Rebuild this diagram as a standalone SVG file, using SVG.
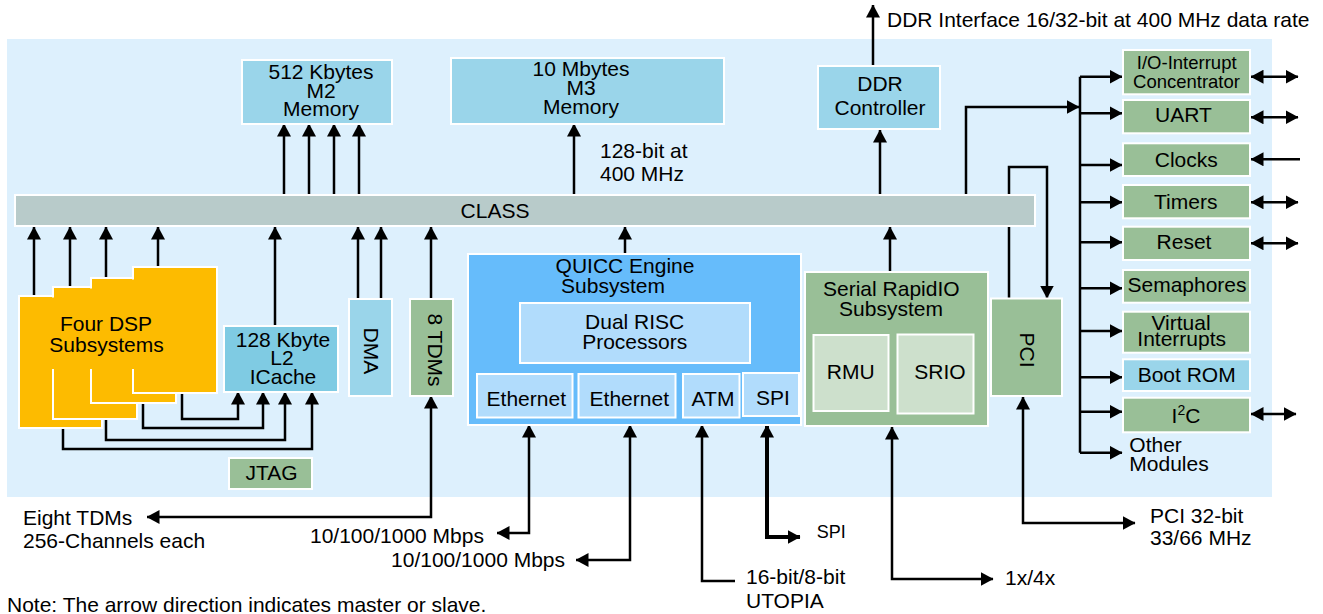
<svg xmlns="http://www.w3.org/2000/svg" width="1323" height="614" viewBox="0 0 1323 614">
<style>
text{font-family:"Liberation Sans",Arial,Helvetica,sans-serif;font-size:21px;fill:#000}
.c{text-anchor:middle}
.box{stroke:#fff;stroke-width:2}
.bl{fill:#9ad5ea}
.gr{fill:#99bf97}
.lg{fill:#cde0cc}
.qb{fill:#b1dcfc}
.or{fill:#fdbb00}
.ln{fill:none;stroke:#000;stroke-width:2.5}
.ae{marker-end:url(#ah)}
.ab{marker-start:url(#ah);marker-end:url(#ah)}
</style>
<defs>
<marker id="ah" viewBox="0 0 13 14" refX="12.5" refY="7" markerWidth="13" markerHeight="14" markerUnits="userSpaceOnUse" orient="auto-start-reverse"><path d="M0,0 L13,7 L0,14 z" fill="#000"/></marker>
<clipPath id="dspclip"><rect x="0" y="0" width="300" height="369"/></clipPath>
</defs>
<rect id="panel" x="7" y="39" width="1265" height="458" fill="#ddf0fd"/>

<g id="connectors">
<path class="ln ae" d="M34,296 V227"/>
<path class="ln ae" d="M70,287 V227"/>
<path class="ln ae" d="M106,278 V227"/>
<path class="ln ae" d="M158,267 V227"/>
<path class="ln ae" d="M275,326 V227"/>
<path class="ln ae" d="M358,299 V227"/>
<path class="ln ae" d="M381,299 V227"/>
<path class="ln ae" d="M431,299 V227"/>
<path class="ln ae" d="M625,254 V227"/>
<path class="ln ae" d="M890,272 V227"/>
<path class="ln ae" d="M284,195 V124"/>
<path class="ln ae" d="M309,195 V124"/>
<path class="ln ae" d="M334,195 V124"/>
<path class="ln ae" d="M359,195 V124"/>
<path class="ln ae" d="M574,195 V124"/>
<path class="ln ae" d="M880,195 V130"/>
<path class="ln ae" d="M873,66 V5"/>
<path class="ln ae" d="M966,195 V107 H1079"/>
<path class="ln ae" d="M1009,298 V167 H1047 V298"/>
<path class="ln" d="M1080,76.7 V452.7"/>
<path class="ln ae" d="M1080,76.7 H1122"/>
<path class="ln ae" d="M1080,113.3 H1122"/>
<path class="ln ae" d="M1080,165 H1122"/>
<path class="ln ae" d="M1080,202.3 H1122"/>
<path class="ln ae" d="M1080,242.3 H1122"/>
<path class="ln ae" d="M1080,288.3 H1122"/>
<path class="ln ae" d="M1080,331 H1122"/>
<path class="ln ae" d="M1080,377.3 H1122"/>
<path class="ln ae" d="M1080,411.7 H1122"/>
<path class="ln ae" d="M1080,452.7 H1122"/>
<path class="ln ab" d="M1251,76.7 H1298"/>
<path class="ln ab" d="M1251,117.3 H1298"/>
<path class="ln ae" d="M1300,159.3 H1251"/>
<path class="ln ab" d="M1251,202.3 H1298"/>
<path class="ln ab" d="M1251,243.3 H1298"/>
<path class="ln ab" d="M1251,414 H1296"/>
<path class="ln ae" d="M182,393 V419 H238 V392"/>
<path class="ln ae" d="M143,403 V428 H263 V392"/>
<path class="ln ae" d="M106,419 V440 H285 V392"/>
<path class="ln ae" d="M63,428 V449 H312 V392"/>
<path class="ln ab" d="M147,517 H431 V396"/>
<path class="ln ab" d="M497,533 H529 V425"/>
<path class="ln ab" d="M576,560 H630 V425"/>
<path class="ln ae" d="M735,581 H702 V425"/>
<path class="ln ab" d="M800,537 H767 V425" style="stroke-width:4"/>
<path class="ln ab" d="M993,579 H892 V427"/>
<path class="ln ab" d="M1135,523 H1023 V397"/>
</g>

<g id="class-bus"><rect class="box" x="15" y="195" width="1020" height="31" fill="#b8cbca"/><text class="c" x="495" y="218">CLASS</text></g>

<g id="m2"><rect class="box bl" x="242" y="60" width="150" height="64"/><text class="c" x="321" y="79">512 Kbytes</text><text class="c" x="321" y="97.5">M2</text><text class="c" x="321" y="116">Memory</text></g>
<g id="m3"><rect class="box bl" x="451" y="58" width="273" height="66"/><text class="c" x="581" y="76">10 Mbytes</text><text class="c" x="581" y="95">M3</text><text class="c" x="581" y="114">Memory</text></g>
<text x="600" y="158">128-bit at</text><text x="600" y="180.5">400 MHz</text>
<g id="ddr"><rect class="box bl" x="818" y="66" width="122" height="63"/><text class="c" x="880" y="90.5">DDR</text><text class="c" x="880" y="115">Controller</text></g>
<text x="887" y="26.7">DDR Interface 16/32-bit at 400 MHz data rate</text>

<g id="dsp">
<rect class="box or" x="19" y="296" width="83" height="132"/>
<rect class="box or" x="53" y="287" width="84" height="132"/>
<rect class="box or" x="91" y="278" width="85" height="125"/>
<rect class="box or" x="133" y="267" width="84" height="126"/>
<g clip-path="url(#dspclip)">
<rect class="or" x="20.5" y="297.5" width="80" height="129"/>
<rect class="or" x="54.5" y="288.5" width="81" height="129"/>
<rect class="or" x="92.5" y="279.5" width="82" height="122"/>
<rect class="or" x="134.5" y="268.5" width="81" height="123"/>
</g>
<text class="c" x="106" y="330.7">Four DSP</text><text class="c" x="106.5" y="351.7">Subsystems</text>
</g>
<g id="icache"><rect class="box" x="224" y="326" width="114" height="66" fill="#7fcbe3"/><text class="c" x="283" y="346.7">128 Kbyte</text><text class="c" x="282" y="365">L2</text><text class="c" x="283" y="384">ICache</text></g>
<g id="jtag"><rect class="box gr" x="229" y="458" width="83" height="31"/><text class="c" x="271.5" y="480">JTAG</text></g>
<g id="dma"><rect class="box bl" x="349" y="299" width="43" height="97"/><text class="c" transform="translate(371,350.8) rotate(90)" dy="0.35em">DMA</text></g>
<g id="tdms"><rect class="box gr" x="410" y="299" width="43" height="97"/><text class="c" transform="translate(435.5,350) rotate(90)" dy="0.35em">8 TDMs</text></g>

<g id="quicc">
<rect class="box" x="468" y="254" width="333" height="171" fill="#66bcfb"/>
<text class="c" x="625" y="273.3">QUICC Engine</text><text class="c" x="613" y="293.3">Subsystem</text>
<rect class="box qb" x="520" y="303" width="230" height="60"/>
<text class="c" x="634.7" y="329.3">Dual RISC</text><text class="c" x="634.7" y="349.3">Processors</text>
<rect class="box qb" x="477" y="374" width="95.5" height="43.5"/><text class="c" x="526.3" y="405.7">Ethernet</text>
<rect class="box qb" x="578.5" y="374" width="97" height="43.5"/><text class="c" x="629.3" y="405.7">Ethernet</text>
<rect class="box qb" x="683" y="374" width="56.5" height="43.5"/><text class="c" x="713" y="405.7">ATM</text>
<rect class="box qb" x="743" y="373" width="56" height="43"/><text class="c" x="773" y="405">SPI</text>
</g>

<g id="srio">
<rect class="box gr" x="805" y="272" width="183" height="154"/>
<text class="c" x="891.3" y="295.7">Serial RapidIO</text><text class="c" x="891" y="315.7">Subsystem</text>
<rect class="box lg" x="813.5" y="335" width="75" height="76"/><text class="c" x="850.7" y="379.3">RMU</text>
<rect class="box lg" x="897.5" y="334.5" width="76" height="79"/><text class="c" x="940" y="379.3">SRIO</text>
</g>
<g id="pci"><rect class="box gr" x="991" y="298.5" width="71" height="97.5"/><text class="c" transform="translate(1027.5,350) rotate(90)" dy="0.35em">PCI</text></g>

<g id="io-int"><rect class="box gr" x="1123" y="50" width="127" height="44.3"/><text class="c" x="1186.7" y="69.3" style="font-size:18.5px">I/O-Interrupt</text><text class="c" x="1186.5" y="88.3" style="font-size:18.5px">Concentrator</text></g>
<g id="uart"><rect class="box gr" x="1123" y="100" width="127" height="33.3"/><text class="c" x="1183.5" y="121.7">UART</text></g>
<g id="clocks"><rect class="box gr" x="1123" y="143.3" width="127" height="32.7"/><text class="c" x="1186.3" y="166.7">Clocks</text></g>
<g id="timers"><rect class="box gr" x="1123" y="185" width="127" height="33.3"/><text class="c" x="1185.7" y="209.3">Timers</text></g>
<g id="reset"><rect class="box gr" x="1123" y="226.7" width="127" height="33.3"/><text class="c" x="1184" y="249.3">Reset</text></g>
<g id="semaphores"><rect class="box gr" x="1123" y="270" width="127" height="32.7"/><text class="c" x="1187" y="292.3">Semaphores</text></g>
<g id="virtual"><rect class="box gr" x="1123" y="311.7" width="127" height="41"/><text class="c" x="1181" y="330">Virtual</text><text class="c" x="1181.7" y="346">Interrupts</text></g>
<g id="bootrom"><rect class="box bl" x="1123" y="359.3" width="127" height="31.7"/><text class="c" x="1186.7" y="381.7">Boot ROM</text></g>
<g id="i2c"><rect class="box gr" x="1123" y="397.7" width="127" height="34.6"/><text class="c" x="1186" y="422.7">I<tspan dy="-8" style="font-size:14px">2</tspan><tspan dy="8">C</tspan></text></g>
<g id="other"><text x="1129.3" y="451.7">Other</text><text x="1129.3" y="470.7">Modules</text></g>

<g id="labels">
<text x="23" y="525">Eight TDMs</text>
<text x="23" y="548.3">256-Channels each</text>
<text x="310" y="543">10/100/1000 Mbps</text>
<text x="565" y="567" text-anchor="end">10/100/1000 Mbps</text>
<text x="746" y="584">16-bit/8-bit</text>
<text x="746" y="608.3">UTOPIA</text>
<text x="816.7" y="537.7" style="font-size:18px">SPI</text>
<text x="1005" y="585">1x/4x</text>
<text x="1150" y="523.3">PCI 32-bit</text>
<text x="1150" y="545">33/66 MHz</text>
<text x="7" y="611.7">Note: The arrow direction indicates master or slave.</text>
</g>
</svg>
